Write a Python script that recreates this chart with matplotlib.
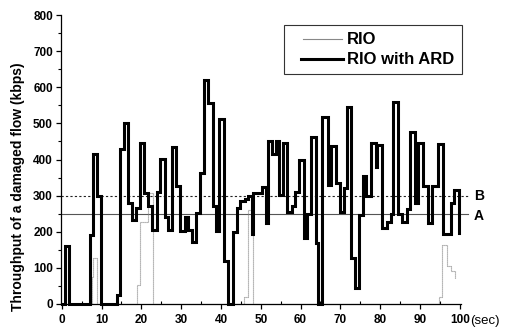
import matplotlib
matplotlib.use("Agg")
import matplotlib.pyplot as plt
from matplotlib.ticker import MultipleLocator
from matplotlib.patches import Rectangle
from matplotlib.lines import Line2D

plt.rcParams['font.family'] = ['Liberation Sans', 'DejaVu Sans']

# RIO with ARD: step start times (sec) and throughput values (kbps)
ard_t = [0, 0.8, 1.9, 7.0, 7.8, 8.9, 9.95, 13.8, 14.7, 15.7, 16.7, 17.6, 18.7, 19.6,
         20.7, 21.7, 22.7, 23.8, 24.6, 25.9, 26.7, 27.6, 28.8, 29.6, 30.9, 31.7,
         32.7, 33.8, 34.7, 35.7, 36.8, 37.9, 38.8, 39.6, 40.7, 41.7, 43.0, 43.9,
         44.7, 46.0, 46.8, 47.8, 48.1, 50.2, 51.2, 51.8, 52.9, 53.9, 54.7, 55.6,
         56.7, 57.8, 58.6, 59.6, 60.8, 61.7, 62.7, 63.8, 64.3, 65.3, 66.8, 67.7,
         69.0, 69.9, 70.9, 71.6, 72.7, 73.6, 74.8, 75.7, 76.5, 77.8, 78.9, 79.3,
         80.5, 81.6, 82.6, 83.3, 84.6, 85.6, 86.7, 87.6, 88.8, 89.6, 90.8, 91.9,
         93.1, 94.5, 95.8, 97.8, 98.6, 99.7]
ard_v = [0, 160, 0, 190, 415, 300, 0, 25, 428, 500, 280, 233, 265, 447,
         306, 270, 205, 311, 401, 242, 205, 434, 327, 203, 242, 205,
         173, 251, 362, 620, 556, 270, 201, 512, 119, 0, 198, 265,
         284, 290, 299, 194, 306, 325, 225, 450, 414, 450, 302, 445,
         256, 270, 309, 399, 182, 248, 463, 170, 0, 519, 330, 438,
         336, 256, 320, 544, 126, 43, 246, 353, 299, 445, 380, 439,
         210, 228, 250, 560, 250, 228, 262, 477, 279, 445, 327, 223,
         327, 443, 194, 279, 315, 197]

# RIO: step start times and values
rio_t = [0, 7.5, 7.8, 8.9, 18.9, 19.6, 21.6, 22.9, 45.9, 46.8, 47.7, 48.1,
         94.9, 95.5, 96.7, 97.8, 98.9]
rio_v = [0, 76, 126, 0, 53, 228, 307, 0, 20, 260, 194, 0,
         20, 163, 104, 90, 70]

level_A = 250
level_B = 300
yticks = [0, 100, 200, 300, 400, 500, 600, 700, 800]
xticks = [0, 10, 20, 30, 40, 50, 60, 70, 80, 90, 100]
legend_labels = ['RIO', 'RIO with ARD']

W, H = 505, 330
fig = plt.figure(figsize=(W / 100, H / 100), dpi=100)
ax = fig.add_axes([0.120, 0.0788, 0.792, 0.8757])

# reference lines
ax.plot([-0.3, 102], [level_A, level_A], color='#555555', lw=0.8, clip_on=False)
ax.plot([-0.3, 102], [level_B, level_B], color='#222222', lw=0.8,
        linestyle=(0, (2, 2)), clip_on=False)

rio_color = '#888888'
ax.plot(rio_t, rio_v, drawstyle='steps-post', color=rio_color,
        lw=0.8, linestyle=(0, (1, 0.8)), clip_on=False)
ax.plot(ard_t, ard_v, drawstyle='steps-post', color='black',
        lw=2.2, clip_on=False, solid_joinstyle='miter')

ax.set_xlim(-0.3, 100.2)
ax.set_ylim(0, 800)
for s in ['top', 'right']:
    ax.spines[s].set_visible(False)
for s in ['left', 'bottom']:
    ax.spines[s].set_linewidth(0.9)

ax.set_xticks(xticks)
ax.set_yticks(yticks)
ax.xaxis.set_minor_locator(MultipleLocator(5))
ax.yaxis.set_minor_locator(MultipleLocator(50))
ax.tick_params(axis='x', which='major', direction='out', length=3.5, width=0.9, pad=4)
ax.tick_params(axis='x', which='minor', direction='in', length=2.5, width=0.8)
ax.tick_params(axis='y', which='major', direction='out', length=3.5, width=0.9, pad=2)
ax.tick_params(axis='y', which='minor', direction='out', length=2, width=0.8)
for lab in ax.get_xticklabels() + ax.get_yticklabels():
    lab.set_fontweight('bold')
    lab.set_fontsize(8.5)

fig.text(18 / W, 1 - 187 / H, 'Throughput of a damaged flow (kbps)',
         rotation=90, ha='center', va='center', fontsize=10, fontweight='bold')
fig.text(470 / W, 1 - 321 / H, '(sec)', ha='left', va='center', fontsize=9.5)
ax.text(103.5, level_B, 'B', ha='left', va='center', fontsize=10,
        fontweight='bold', clip_on=False)
ax.text(103.5, 243, 'A', ha='left', va='center', fontsize=10,
        fontweight='bold', clip_on=False)

# legend drawn in figure pixel coordinates
def fx(px):
    return px / W

def fy(py):
    return 1 - py / H

fig.patches.append(Rectangle((fx(284), fy(74)), fx(462) - fx(284), fy(25) - fy(74),
                             transform=fig.transFigure, facecolor='white',
                             edgecolor='#333333', lw=0.8, zorder=5))
fig.lines.append(Line2D([fx(303), fx(342)], [fy(39), fy(39)], transform=fig.transFigure,
                        color=rio_color, lw=0.8, zorder=6))
fig.lines.append(Line2D([fx(301), fx(343)], [fy(58.5), fy(58.5)], transform=fig.transFigure,
                        color='black', lw=2.2, zorder=6))
fig.text(fx(347), fy(40), legend_labels[0], ha='left', va='center', fontsize=12,
         fontweight='bold', zorder=7)
fig.text(fx(347), fy(59), legend_labels[1], ha='left', va='center', fontsize=12,
         fontweight='bold', zorder=7)

fig.savefig('out.png', dpi=100)
